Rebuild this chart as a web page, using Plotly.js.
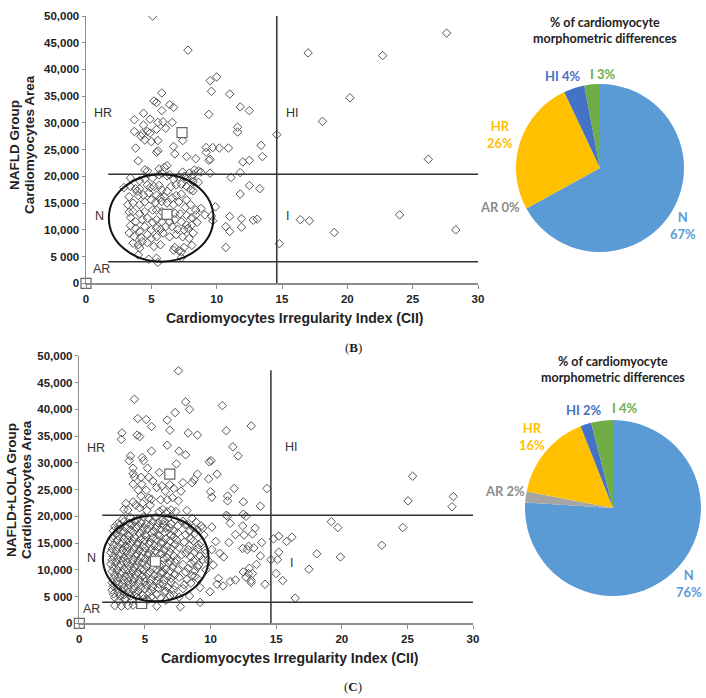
<!DOCTYPE html>
<html>
<head>
<meta charset="utf-8">
<script src="https://cdn.plot.ly/plotly-3.0.1.min.js"></script>
<style>html,body{margin:0;padding:0;background:#fff;}#chart{width:706px;height:698px;}</style>
</head>
<body>
<div id="chart"></div>
<script>
// ---------- DATA ----------
const xTickVals = [0, 5, 10, 15, 20, 25, 30];
const xTickText = ['0', '5', '10', '15', '20', '25', '30'];
const yTickVals = [0, 5000, 10000, 15000, 20000, 25000, 30000, 35000, 40000, 45000, 50000];
const yTickText = ['0', '5 000', '10,000', '15,000', '20,000', '25,000', '30,000', '35,000', '40,000', '45,000', '50,000'];

// NAFLD group: [CII, area]
const nafldPoints = [
[5.1,50000],[7.8,43600],[9.5,37900],[10.0,38600],[17.0,43100],[22.7,42600],[27.6,46800],[20.2,34700],[18.1,30300],[14.6,27800],[26.2,23200],[16.4,11900],[17.1,11700],[19.0,9500],[24.0,12800],[28.3,10000],[14.8,7400],
[5.8,35600],[9.6,35900],[11.0,35400],[5.2,34100],[5.4,33800],[6.4,33400],[6.7,32900],[11.8,33000],[12.5,32300],[4.4,31800],
[5.8,32300],[9.4,31600],[4.9,30700],[3.7,30600],[5.5,30100],[5.9,30200],[6.6,30100],[4.4,29600],[6.1,29000],[4.7,28400],
[3.7,28400],[4.3,28000],[5.4,28800],[4.9,28100],[4.2,27500],[4.5,26800],[5.5,26700],[7.4,26700],[5.0,26500],[6.7,25600],
[3.8,25300],[5.4,24500],[5.5,24800],[6.8,24200],[7.7,23700],[9.2,25400],[9.7,25400],[10.2,25300],[10.9,25300],[11.6,29200],
[11.6,28300],[9.2,24500],[9.5,23200],[9.4,23000],[8.4,23300],[4.0,22900],[6.2,22000],[6.0,21700],[5.6,21400],[4.5,21200],
[12.0,22700],[12.5,23000],[13.4,25800],[13.5,23700],[5.8,20600],[4.7,21000],[7.4,20800],[8.3,21200],[8.6,21000],
[7.9,20600],[6.4,20300],[3.4,19700],[4.1,19200],[4.5,19500],[5.1,19700],[5.6,20300],[6.2,20100],[6.7,19500],[7.1,19900],
[7.5,20000],[7.7,19500],[8.1,19800],[8.2,20300],[8.8,20800],[9.5,20600],[11.1,19800],[11.8,20700],[12.5,18300],[13.3,17700],
[11.8,16700],[9.9,14300],[11.0,12500],[11.9,12100],[12.8,11800],[13.1,12000],[10.7,10600],[11.0,9700],[11.9,10500],[10.7,6700],
[2.9,17900],[3.4,18100],[3.8,17700],[3.9,17200],[4.1,17700],[4.7,18400],[4.9,17900],[5.2,18100],[5.6,18300],[5.8,17500],
[6.2,17200],[6.5,18100],[6.9,18400],[7.3,18500],[7.7,18100],[8.0,17500],[8.2,19000],[8.6,18900],
[3.3,16200],[4.0,16400],[4.4,16500],[4.8,16900],[5.4,16500],[5.7,16000],[6.0,16200],[6.6,16000],[6.9,16400],[7.3,16700],[7.7,15600],[8.2,17300],
[3.2,14700],[3.6,15000],[4.1,14700],[4.5,15200],[5.0,15600],[5.3,15100],[5.8,15300],[6.2,15000],[6.7,14700],[7.1,15200],[7.6,14200],[8.0,14700],[8.4,13700],[8.8,14000],[9.1,12800],[9.6,12600],[9.7,11700],
[3.3,13300],[3.6,13400],[4.1,13000],[4.5,13400],[5.1,13700],[5.4,13700],[5.8,13400],[6.3,12900],[6.8,13100],[7.2,13000],[7.7,12700],[8.1,12300],[8.4,12800],
[3.4,12300],[3.8,11500],[4.3,11900],[4.7,12200],[5.1,11400],[5.4,11900],[5.8,11500],[6.4,11500],[6.8,11900],[7.3,11500],[7.7,10900],[8.1,10900],[8.5,11400],
[3.4,10800],[3.8,10300],[4.1,9700],[4.5,10600],[5.0,10000],[5.4,10300],[5.7,10100],[6.1,10600],[6.6,10600],[7.0,10100],[7.5,10000],[7.8,10300],[8.2,9400],
[3.3,9400],[3.7,8700],[4.2,8600],[4.7,9100],[5.0,8400],[5.4,8700],[5.9,9400],[6.4,8700],[6.9,9100],[7.4,8700],[7.9,8400],[8.1,7100],
[3.6,7500],[4.0,7200],[4.1,6600],[4.7,7600],[5.2,6900],[5.7,7200],[6.8,6700],[7.1,6100],[7.3,5900],[7.5,6700],
[4.0,5300],[4.8,4500],[5.4,4700],[5.5,3900],[7.3,4800],[6.7,6200],[4.3,7800]
];
// Group mean markers (squares)
const nafldSquares = [[0,0],[6.2,12900],[7.35,28200]];

// NAFLD+LOLA group: [CII, area]
const lolaPoints = [
// HR upper
[7.55,47200],[4.2,41900],[8.1,41400],[8.4,40000],[7.3,39400],[10.9,40700],[4.45,38300],[5.1,38100],[6.7,38000],
[5.5,36800],[3.25,35600],[3.2,34400],[4.4,35200],[4.6,34900],[6.9,36100],[8.3,35600],[9.0,35200],[11.2,36000],[13.1,36900],
[6.7,33300],[5.5,32200],[7.6,32200],[8.1,31500],[11.7,33000],[12.1,31300],[3.9,31300],[3.8,30400],[4.8,31000],[4.9,30400],
[7.4,29800],[9.9,30200],[10.05,30400],[4.1,29000],[5.2,29000],[4.1,28000],[4.2,27400],[6.1,28200],[9.0,27900],[10.5,27900],
[9.85,27000],[8.75,26900],[5.3,27300],[5.6,26600],[4.7,27300],[4.1,26000],[4.75,26000],[7.9,26300],[8.6,26300],[6.3,25700],
[6.9,25900],[5.9,25400],[5.1,24900],[6.55,24700],[7.2,25200],[7.75,24700],[10.0,24600],[10.1,23600],[11.3,23800],[11.3,22900],
[11.8,25200],[12.5,22700],[13.8,21900],[14.3,25200],[4.5,24900],[5.3,23400],[5.5,23200],[4.7,23800],[6.2,23100],[6.7,23100],
[7.1,23500],[7.55,22900],[4.1,22700],[4.3,22100],[3.55,22400],[3.4,21300],[3.7,21200],[4.6,21600],[4.8,22400],[6.35,21300],
[6.7,20900],[7.0,21200],[7.35,20900],[8.2,21100],[6.1,20900],[5.4,22100],[5.15,21100],[12.5,20400],[11.2,20200],
// N cluster
[3.3,19500],[3.9,19800],[4.4,19300],[4.9,19900],[5.3,19600],[5.8,19800],[6.3,19200],[6.8,19700],[7.3,19400],[7.9,19100],[8.6,19600],
[2.9,18600],[3.4,19000],[3.8,18700],[4.2,19100],[4.7,18800],[5.1,18500],[5.6,19000],[6.0,18800],[6.5,19100],[7.0,18600],[8.2,18500],[8.9,18900],
[2.7,18100],[3.1,18400],[3.6,17900],[4.0,18400],[4.5,18200],[4.9,17900],[5.4,18300],[5.9,18000],[6.4,18500],[6.9,17900],[7.5,18200],[8.1,18400],[8.7,17900],[9.3,18200],
[2.6,17300],[3.0,17600],[3.4,17200],[3.9,17500],[4.3,17800],[4.8,17300],[5.2,17600],[5.7,17200],[6.2,17500],[6.6,17800],[7.2,17300],[8.4,17200],[9.0,17500],
[2.8,16700],[3.2,17000],[3.7,16500],[4.1,17000],[4.6,16800],[5.0,16500],[5.5,16900],[6.0,16600],[6.5,17000],[7.0,16500],[7.5,16900],[8.1,16600],[8.8,16800],[9.5,16500],
[2.5,16000],[3.0,16300],[3.4,15800],[3.8,16300],[4.2,16100],[4.7,15800],[5.1,16200],[5.6,16000],[6.1,16400],[6.6,15800],[7.2,16100],[8.5,15800],
[2.4,15300],[2.9,15600],[3.3,15100],[3.7,15600],[4.1,15400],[4.5,15100],[5.0,15500],[5.4,15200],[5.9,15700],[6.4,15100],[6.9,15400],[7.4,15600],[8.0,15200],[8.7,15400],[9.3,15100],
[2.6,14600],[3.1,14900],[3.5,14400],[3.9,14900],[4.4,14700],[4.8,14400],[5.3,14800],[5.7,14500],[6.2,15000],[6.7,14400],[7.3,14700],[8.4,14500],[9.1,14700],
[2.5,13900],[2.9,14200],[3.3,13700],[3.7,14200],[4.2,14000],[4.6,13700],[5.0,14100],[5.5,13800],[6.0,14300],[6.5,13700],[7.0,14000],[7.6,14200],[8.3,13800],[9.0,14000],[9.6,13700],
[2.4,13200],[2.8,13500],[3.2,13000],[3.6,13500],[4.0,13300],[4.4,13000],[4.9,13400],[5.3,13100],[5.8,13600],[6.3,13000],[6.9,13300],[8.1,13100],[8.8,13300],
[2.6,12500],[3.0,12800],[3.4,12300],[3.8,12800],[4.3,12600],[4.7,12300],[5.2,12700],[5.6,12400],[6.2,12900],[6.7,12300],[7.2,12600],[7.8,12800],[8.5,12400],[9.2,12600],
[2.5,11800],[2.9,12100],[3.3,11600],[3.7,12100],[4.1,11900],[4.5,11600],[5.0,12000],[5.4,11700],[6.4,12200],[6.9,11600],[7.4,11900],[8.7,11700],[9.4,11900],
[2.4,11100],[2.8,11400],[3.2,10900],[3.6,11400],[4.0,11200],[4.4,10900],[4.8,11300],[5.3,11000],[6.3,10900],[6.8,11200],[7.3,11400],[7.9,11000],[8.5,11200],[9.1,10900],
[2.6,10400],[3.0,10700],[3.4,10200],[3.8,10700],[4.2,10500],[4.7,10200],[5.1,10600],[5.6,10300],[6.1,10800],[6.6,10200],[7.1,10500],[8.3,10300],[9.0,10500],
[2.5,9700],[2.9,10000],[3.3,9500],[3.7,10000],[4.1,9800],[4.5,9500],[4.9,9900],[5.4,9600],[5.9,10100],[6.4,9500],[6.9,9800],[7.5,10000],[8.1,9600],[8.8,9800],
[2.7,9000],[3.1,9300],[3.5,8800],[3.9,9300],[4.3,9100],[4.8,8800],[5.2,9200],[5.7,8900],[6.2,9400],[6.7,8800],[7.3,9100],[8.6,8900],
[2.6,8300],[3.0,8600],[3.4,8100],[3.8,8600],[4.2,8400],[4.6,8100],[5.0,8500],[5.5,8200],[6.0,8700],[6.5,8100],[7.0,8400],[7.6,8600],[8.2,8200],[9.0,8400],
[2.5,7600],[2.9,7900],[3.3,7400],[3.7,7900],[4.1,7700],[4.5,7400],[5.0,7800],[5.4,7500],[5.9,8000],[6.4,7400],[7.0,7700],[8.5,7500],
[2.6,6900],[3.0,7200],[3.4,6700],[3.8,7200],[4.2,7000],[4.7,6700],[5.1,7100],[5.6,6800],[6.1,7300],[6.7,6700],[7.3,7000],[8.0,7200],
[2.5,6200],[2.9,6500],[3.3,6000],[3.7,6500],[4.1,6300],[4.5,6000],[5.0,6400],[5.5,6100],[6.0,6600],[6.6,6000],[7.2,6300],[7.9,6500],
[2.6,5500],[3.0,5800],[3.4,5300],[3.8,5800],[4.3,5600],[4.8,5300],[5.3,5700],[5.9,5400],[6.5,5900],[7.2,5300],
[2.7,4800],[3.1,5100],[3.5,4600],[3.9,5100],[4.4,4900],[4.9,4600],[5.5,5000],[6.2,4700],[6.9,5100],[7.6,4900],
[3.0,4200],[3.5,4400],[4.0,4300],[4.6,4100],[5.2,4400],[6.6,4300],
// N band, right of ellipse
[9.4,17800],[10.1,18000],[11.5,18700],[11.3,20000],[12.7,20000],[11.9,16600],[12.45,18200],[13.4,17800],[13.2,16700],[12.55,16500],
[10.4,15300],[11.4,15100],[12.8,13800],[12.9,14400],[13.3,14100],[13.9,15100],[10.1,13800],[10.7,13100],[11.0,12400],[13.8,12600],
[9.6,13100],[9.8,11800],[10.2,10900],[9.65,10000],[12.5,9600],[12.96,10300],[13.5,11000],[13.2,9300],[12.9,9300],[12.7,8600],
[13.1,8000],[13.1,7600],[14.15,7300],[11.5,7800],[11.9,8100],[10.6,8400],[8.8,8800],[9.2,6700],[9.96,5900],[8.4,5100],
[10.5,7300],[10.95,7000],[12.45,14000],
// I region
[19.2,19000],[19.7,17900],[24.65,17900],[23.05,14600],[19.9,12400],[18.1,13000],[17.5,10100],[16.45,4700],[16.2,16100],[15.8,15300],
[15.2,16300],[14.8,15800],[15.2,13300],[15.1,11900],[14.6,11900],[15.0,9300],[15.5,8000],
// HI region
[25.4,27500],[25.05,22900],[28.5,23700],[28.4,21800],
// AR region
[2.7,3300],[3.2,3200],[3.7,3300],[4.1,3400],[4.6,3600],[5.9,3200],[7.7,3100],[9.2,3900]
];
const lolaSquares = [[0,0],[5.8,11600],[6.9,27900],[4.75,3700]];

// Classification thresholds and normal-range ellipse (data units)
const nafldCut = {cii: 14.6, areaHigh: 20400, areaLow: 4050, lineStart: 1.7, vTop: 50000};
const nafldEllipse = {x0: 1.75, x1: 9.75, y0: 4050, y1: 20400};
const lolaCut = {cii: 14.6, areaHigh: 20200, areaLow: 3950, lineStart: 1.75, vTop: 47300};
const lolaEllipse = {x0: 1.8, x1: 9.85, y0: 4100, y1: 20200};

// Region labels [text, CII, area]
const nafldRegions = [['HR',1.3,31900],['HI',15.8,31900],['N',1.0,12600],['AR',1.2,2700],['I',15.4,12600]];
const lolaRegions = [['HR',1.3,32800],['HI',16.2,32900],['N',0.95,12300],['AR',0.95,2700],['I',16.2,11300]];

// Pie data
const pieLabels = ['N', 'AR', 'HR', 'HI', 'I'];
const pieNafld = [67, 0, 26, 4, 3];
const pieLola = [76, 2, 16, 2, 4];
const pieColors = ['#5B9BD5', '#A5A5A5', '#FFC000', '#4472C4', '#70AD47'];
const pieTextColors = ['#5B9BD5', '#8C8C8C', '#FFC000', '#4472C4', '#70AD47'];
const pieTitle = '% of cardiomyocyte<br>morphometric differences';

// ---------- LAYOUT (pixel positions) ----------
const pieSep = ['<br>', ' ', '<br>', ' ', ' '];
const pieLabelPosTop = [[683,225],[500,207],[500,134],[563,76],[603,74]];
const pieLabelPosBot = [[689,583],[505,491],[532,436],[584,410],[625,408]];

const W = 706, H = 698;
const px = v => v / W;
const py = v => 1 - v / H;

const AX = 'Liberation Sans, Arial, sans-serif';
const PF = 'Lato, Calibri, sans-serif';
const markerStyle = {symbol: 'diamond-open', size: 6.5, color: '#555', line: {width: 1, color: '#555'}};
const squareStyle = {symbol: 'square', size: 10, color: '#fff', line: {width: 1.2, color: '#666'}};

function scatter(points, xa, ya, marker, clip) {
  return {type: 'scatter', mode: 'markers', x: points.map(p => p[0]), y: points.map(p => p[1]),
    xaxis: xa, yaxis: ya, marker: marker, cliponaxis: clip, hoverinfo: 'x+y'};
}
function pie(values, domain) {
  return {type: 'pie', labels: pieLabels, values: values, sort: false, direction: 'clockwise', rotation: 0,
    domain: domain, marker: {colors: pieColors, line: {width: 0}},
    textinfo: 'none', showlegend: false, hoverinfo: 'label+value'};
}
function pieAnn(values, pos) {
  return pieLabels.map((l, i) => ({text: '<b>' + l + pieSep[i] + values[i] + '%</b>',
    x: px(pos[i][0]), y: py(pos[i][1]), xref: 'paper', yref: 'paper', xanchor: 'center', yanchor: 'middle',
    showarrow: false, font: {family: PF, size: 13, color: pieTextColors[i]}}));
}

const data = [
  scatter(nafldPoints, 'x', 'y', markerStyle, true),
  scatter(nafldSquares, 'x', 'y', squareStyle, false),
  scatter(lolaPoints, 'x2', 'y2', markerStyle, true),
  scatter(lolaSquares, 'x2', 'y2', squareStyle, false),
  pie(pieNafld, {x: [px(516), px(684)], y: [py(252), py(84)]}),
  pie(pieLola, {x: [px(525), px(701)], y: [py(596), py(420)]})
];

function xAxis(domain, anchor) {
  return {domain: domain, anchor: anchor, range: [0, 30], tickvals: xTickVals,
    ticktext: xTickText.map(t => '<b>' + t + '</b>'), showgrid: false, zeroline: false,
    showline: true, linecolor: '#8c8c8c', linewidth: 1.5, ticks: 'outside', ticklen: 4, tickcolor: '#8c8c8c',
    tickfont: {family: AX, size: 11.5, color: '#222'}, fixedrange: true};
}
function yAxis(domain, anchor) {
  return {domain: domain, anchor: anchor, range: [0, 50000], tickvals: yTickVals,
    ticktext: yTickText.map(t => '<b>' + t + '</b>'), showgrid: false,
    zeroline: false, showline: true, linecolor: '#8c8c8c', linewidth: 1.5, ticks: 'outside', ticklen: 3,
    tickcolor: '#8c8c8c', tickfont: {family: AX, size: 11.5, color: '#222'}, fixedrange: true};
}

function lines(cut, ell, xr, yr) {
  const L = {color: '#333', width: 1.5};
  return [
    {type: 'line', xref: xr, yref: yr, x0: cut.cii, x1: cut.cii, y0: 0, y1: cut.vTop, line: L},
    {type: 'line', xref: xr, yref: yr, x0: cut.lineStart, x1: 30, y0: cut.areaHigh, y1: cut.areaHigh, line: L},
    {type: 'line', xref: xr, yref: yr, x0: cut.lineStart, x1: 30, y0: cut.areaLow, y1: cut.areaLow, line: L},
    {type: 'circle', xref: xr, yref: yr, x0: ell.x0, x1: ell.x1, y0: ell.y0, y1: ell.y1, line: {color: '#111', width: 2}}
  ];
}

function regionAnn(list, xr, yr) {
  return list.map(r => ({text: r[0], x: r[1], y: r[2], xref: xr, yref: yr, showarrow: false,
    xanchor: 'center', yanchor: 'middle', font: {family: AX, size: 12.5, color: '#333'}}));
}
function paperAnn(text, x, y, font, angle) {
  return {text: text, x: px(x), y: py(y), xref: 'paper', yref: 'paper', xanchor: 'center', yanchor: 'middle',
    showarrow: false, font: font, textangle: angle || 0};
}

const titleFont = {family: AX, size: 13.5, color: '#222'};
const xTitleFont = {family: AX, size: 14, color: '#222'};
const capFont = {family: 'Liberation Serif, Times New Roman, serif', size: 13, color: '#222'};
const pieTitleFont = {family: PF, size: 12.5, color: '#222'};
const annotations = [].concat(
  regionAnn(nafldRegions, 'x', 'y'),
  regionAnn(lolaRegions, 'x2', 'y2'),
  pieAnn(pieNafld, pieLabelPosTop),
  pieAnn(pieLola, pieLabelPosBot),
  [
    paperAnn('<b>NAFLD Group</b>', 14, 145, titleFont, -90),
    paperAnn('<b>Cardiomyocytes Area</b>', 29, 145, titleFont, -90),
    paperAnn('<b>NAFLD+LOLA Group</b>', 11, 490, titleFont, -90),
    paperAnn('<b>Cardiomyocytes Area</b>', 26, 490, titleFont, -90),
    paperAnn('<b>Cardiomyocytes Irregularity Index (CII)</b>', 295, 318, xTitleFont),
    paperAnn('<b>Cardiomyocytes Irregularity Index (CII)</b>', 290, 658, xTitleFont),
    paperAnn('(<b>B</b>)', 353, 347, capFont),
    paperAnn('(<b>C</b>)', 353, 686, capFont),
    paperAnn('<b>' + pieTitle + '</b>', 605, 30, pieTitleFont),
    paperAnn('<b>' + pieTitle + '</b>', 613, 369, pieTitleFont)
  ]
);

const layout = {
  width: W, height: H, margin: {l: 0, r: 0, t: 0, b: 0}, paper_bgcolor: '#fff', plot_bgcolor: 'rgba(0,0,0,0)',
  showlegend: false,
  xaxis: xAxis([px(86), px(478)], 'y'),
  yaxis: yAxis([py(283.3), py(16)], 'x'),
  xaxis2: xAxis([px(79.3), px(473)], 'y2'),
  yaxis2: yAxis([py(623.3), py(355.9)], 'x2'),
  shapes: lines(nafldCut, nafldEllipse, 'x', 'y').concat(lines(lolaCut, lolaEllipse, 'x2', 'y2')),
  annotations: annotations
};

Plotly.newPlot('chart', data, layout, {displayModeBar: false, staticPlot: true});
</script>
</body>
</html>
